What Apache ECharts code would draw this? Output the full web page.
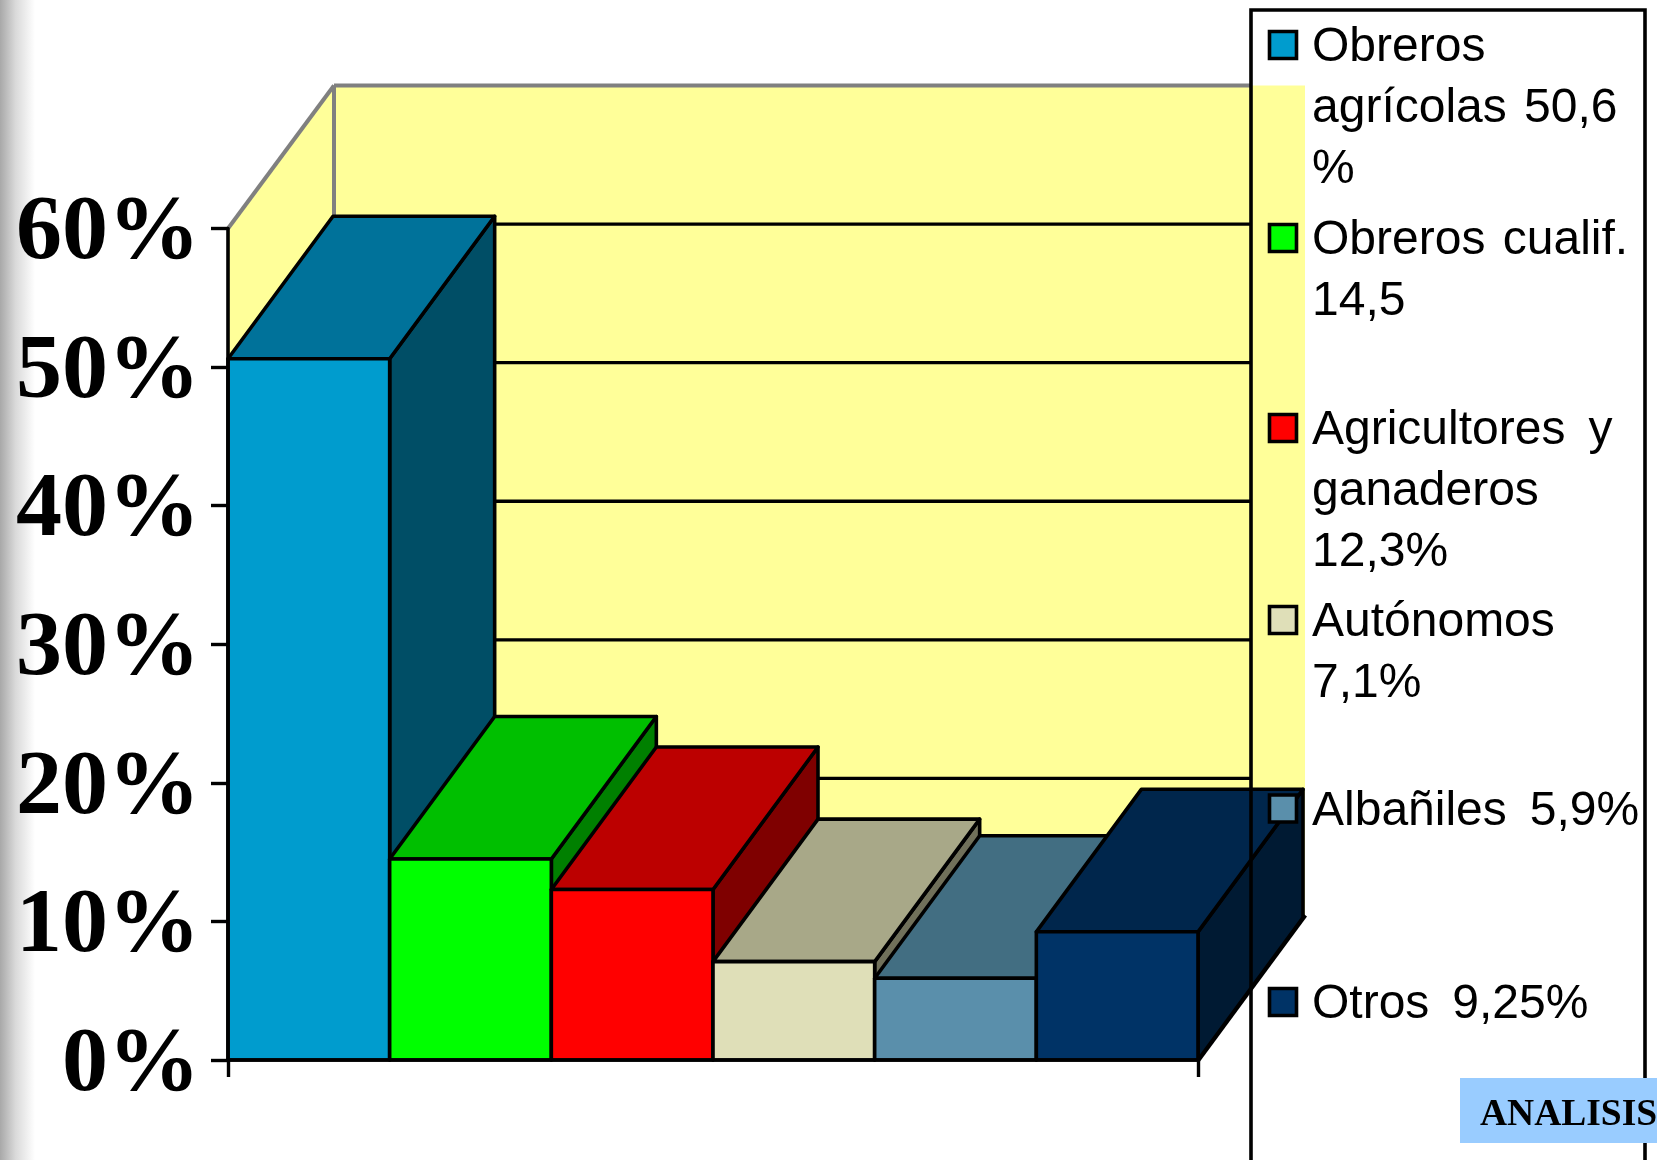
<!DOCTYPE html>
<html>
<head>
<meta charset="utf-8">
<style>html,body{margin:0;padding:0;background:#fff}#c{width:1657px;height:1160px}</style>
<script src="https://cdn.jsdelivr.net/npm/echarts@6/dist/echarts.min.js"></script>
</head>
<body>
<div id="c"></div>
<script>
const categories = ['Obreros agrícolas', 'Obreros cualif.', 'Agricultores y ganaderos', 'Autónomos', 'Albañiles', 'Otros'];
const values = [50.6, 14.5, 12.3, 7.1, 5.9, 9.25];
const frontColors = ['#009CCE', '#00FF00', '#FF0000', '#DFDFB8', '#5A8FAB', '#003366'];
const topColors = ['#00729A', '#00BF00', '#BC0000', '#A8A888', '#426E82', '#00264C'];
const sideColors = ['#004E66', '#008000', '#7F0000', '#70705A', '#2C4A56', '#001A33'];
const legendLines = [
  ['Obreros', 'agrícolas\u00A0\u200A50,6', '%'],
  ['Obreros\u00A0\u200Acualif.', '14,5'],
  ['Agricultores\u00A0\u2009y', 'ganaderos', '12,3%'],
  ['Autónomos', '7,1%'],
  ['Albañiles\u00A0\u20095,9%'],
  ['Otros\u00A0\u20099,25%']
];
const legendCenters = [45, 238, 428, 620, 808.5, 1002];
const wallTicks = [10, 20, 30, 40, 50];

const DX = 105, DY = 142.5, WDX = 106, WDY = 143;
const BOX_L = 1251, BOX_R = 1645, BOX_T = 10;

const chart = echarts.init(document.getElementById('c'), null, {renderer: 'canvas'});

function renderBar(params, api) {
  const i = api.value(0);
  const c = api.coord([i, api.value(1)]);
  const b = api.coord([i, 0]);
  const w = api.size([1, 0])[0];
  const l = c[0] - w / 2, r = c[0] + w / 2, t = c[1], bot = b[1];
  const st = {stroke: '#000', lineWidth: 3.6, lineJoin: 'round'};
  return {type: 'group', children: [
    {type: 'polygon', shape: {points: [[r, bot], [r + DX, bot - DY], [r + DX, t - DY], [r, t]]},
      style: Object.assign({fill: sideColors[i]}, st)},
    {type: 'polygon', shape: {points: [[l, t], [r, t], [r + DX, t - DY], [l + DX, t - DY]]},
      style: Object.assign({fill: topColors[i]}, st)},
    {type: 'rect', shape: {x: l, y: t, width: w, height: bot - t},
      style: Object.assign({fill: frontColors[i]}, st)}
  ]};
}

function renderWall(params, api) {
  const tl = api.coord([0, 60]), bl = api.coord([0, 0]);
  const cs = params.coordSys;
  const L = cs.x, R = cs.x + cs.width;
  const top = tl[1], bot = bl[1];
  const wL = L + WDX, wR = R + WDX + 1, wT = top - WDY, wB = bot - WDY;
  return {type: 'group', children: [
    {type: 'polygon', shape: {points: [[L, top], [wL, wT], [wL, wB], [L, bot]]}, style: {fill: '#FFFF99'}},
    {type: 'rect', shape: {x: wL, y: wT, width: wR - wL, height: wB - wT}, style: {fill: '#FFFF99'}},
    {type: 'line', shape: {x1: L, y1: top, x2: wL, y2: wT}, style: {stroke: '#808080', lineWidth: 4}},
    {type: 'line', shape: {x1: wL, y1: wT, x2: wL, y2: wB}, style: {stroke: '#808080', lineWidth: 4}},
    {type: 'line', shape: {x1: wL, y1: wT, x2: BOX_L, y2: wT}, style: {stroke: '#808080', lineWidth: 4}},
    {type: 'line', shape: {x1: R, y1: bot, x2: wR, y2: wB - 2}, style: {stroke: '#000', lineWidth: 5}}
  ]};
}

function renderGridline(params, api) {
  const p = api.coord([0, api.value(0)]);
  return {type: 'line', shape: {x1: p[0] + WDX, y1: p[1] - WDY, x2: BOX_L, y2: p[1] - WDY},
    style: {stroke: '#000', lineWidth: 3.4}};
}

const graphics = [
  {type: 'rect', z: 0, silent: true, shape: {x: 0, y: 0, width: 35, height: 1160},
    style: {fill: new echarts.graphic.LinearGradient(0, 0, 1, 0, [
      {offset: 0, color: '#A8A8A8'}, {offset: 0.45, color: '#DADADA'}, {offset: 1, color: '#FFFFFF'}])}},
  {type: 'rect', z: 100, shape: {x: BOX_L, y: BOX_T, width: BOX_R - BOX_L, height: 1300},
    style: {fill: 'transparent', stroke: '#000', lineWidth: 3.6}}
];
legendLines.forEach(function (lines, i) {
  const cy = legendCenters[i];
  graphics.push({type: 'rect', z: 110, shape: {x: 1269.5, y: cy - 13.5, width: 27, height: 27},
    style: {fill: frontColors[i], stroke: '#000', lineWidth: 3.6}});
  lines.forEach(function (txt, k) {
    graphics.push({type: 'text', z: 110, x: 1312, y: cy + 3 + k * 61,
      style: {text: txt, fill: '#000', font: '48px "Liberation Sans"', verticalAlign: 'middle', align: 'left'}});
  });
});
graphics.push({type: 'rect', z: 120, shape: {x: 1460, y: 1078, width: 197, height: 65}, style: {fill: '#99CCFF'}});
graphics.push({type: 'text', z: 121, x: 1480, y: 1115,
  style: {text: 'ANALISIS', fill: '#000', font: 'bold 37.5px "Liberation Serif"', verticalAlign: 'middle', align: 'left'}});

chart.setOption({
  animation: false,
  backgroundColor: '#fff',
  grid: {left: 228, right: 459, top: 228.5, bottom: 100, containLabel: false},
  xAxis: [
    {type: 'category', data: categories, position: 'bottom', z: 5,
      axisLine: {show: true, onZero: false, lineStyle: {color: '#000', width: 3.6}},
      axisTick: {show: false}, axisLabel: {show: false}, splitLine: {show: false}},
    {type: 'category', data: [''], position: 'bottom', z: 5,
      axisLine: {show: false, onZero: false},
      axisTick: {show: true, length: 17, lineStyle: {color: '#000', width: 3.4}},
      axisLabel: {show: false}, splitLine: {show: false}}
  ],
  yAxis: {type: 'value', min: 0, max: 60, interval: 10, z: 5,
    axisLine: {show: true, lineStyle: {color: '#000', width: 3.6}},
    axisTick: {show: true, length: 17, lineStyle: {color: '#000', width: 3.4}},
    splitLine: {show: false},
    axisLabel: {formatter: '{t|{value}%}', margin: 28,
      rich: {t: {color: '#000', fontFamily: 'Liberation Serif', fontWeight: 'bold', fontSize: 92, lineHeight: 92, padding: [12, 0, 0, 0]}}}
  },
  graphic: graphics,
  series: [
    {type: 'custom', z: 1, silent: true, renderItem: renderWall, data: [0], encode: {x: 0}, xAxisIndex: 0},
    {type: 'custom', z: 2, silent: true, renderItem: renderGridline, data: wallTicks.map(v => [v]), encode: {y: 0}, xAxisIndex: 0},
    {type: 'custom', z: 3, renderItem: renderBar, data: values.map((v, i) => [i, v]), encode: {x: 0, y: 1}, xAxisIndex: 0}
  ]
});
</script>
</body>
</html>
